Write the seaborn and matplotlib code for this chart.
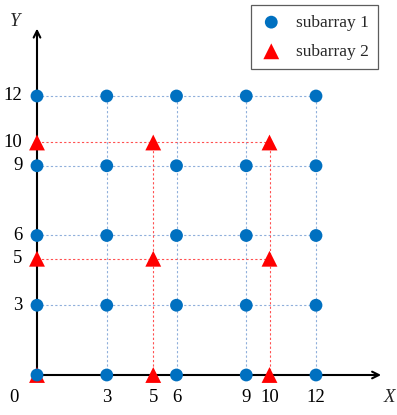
import numpy as np
import pandas as pd
import matplotlib
matplotlib.use("Agg")
import matplotlib.pyplot as plt
import seaborn as sns

# data
sub1_coords = [0, 3, 6, 9, 12]
sub2_coords = [0, 5, 10]
x_ticks = [3, 5, 6, 9, 10, 12]
y_ticks = [3, 5, 6, 9, 10, 12]
labels = ["subarray 1", "subarray 2"]

sns.set_theme(style="white")
plt.rcParams["font.family"] = ["Liberation Serif", "DejaVu Serif"]

W, H = 397, 415
fig = plt.figure(figsize=(W / 100, H / 100), dpi=100)
ax = fig.add_axes([0, 0, 1, 1])
px = 23.25
ox, oy = 37, 375
ax.set_xlim(-ox / px, (W - ox) / px)
ax.set_ylim(-(H - oy) / px, oy / px)
ax.axis("off")

blue = "#0070C0"
red = "#FF0000"
lblue = "#8FAFDB"
lred = "#FF5050"

# grid lines
for v in sub1_coords[1:]:
    ax.plot([0, max(sub1_coords)], [v, v], ls=(0, (2, 2)), lw=0.8, color=lblue, zorder=1)
    ax.plot([v, v], [0, max(sub1_coords)], ls=(0, (2, 2)), lw=0.8, color=lblue, zorder=1)
for v in sub2_coords[1:]:
    ax.plot([0, max(sub2_coords)], [v, v], ls=(0, (2, 2)), lw=0.8, color=lred, zorder=1.5)
    ax.plot([v, v], [0, max(sub2_coords)], ls=(0, (2, 2)), lw=0.8, color=lred, zorder=1.5)

# axes arrows
ax.annotate("", xy=(14.8, 0), xytext=(0, 0),
            arrowprops=dict(arrowstyle="->", lw=1.5, color="black", shrinkA=0, shrinkB=0), zorder=2)
ax.annotate("", xy=(0, 14.9), xytext=(0, 0),
            arrowprops=dict(arrowstyle="->", lw=1.5, color="black", shrinkA=0, shrinkB=0), zorder=2)

g1x, g1y = np.meshgrid(sub1_coords, sub1_coords)
g2x, g2y = np.meshgrid(sub2_coords, sub2_coords)
df1 = pd.DataFrame({"x": g1x.ravel(), "y": g1y.ravel()})
df2 = pd.DataFrame({"x": g2x.ravel(), "y": g2y.ravel()})

sns.scatterplot(data=df2, x="x", y="y", ax=ax, marker="^", s=130, color=red,
                edgecolor="none", linewidth=0, zorder=3, label=labels[1], clip_on=False)
sns.scatterplot(data=df1, x="x", y="y", ax=ax, marker="o", s=85, color=blue,
                edgecolor="none", linewidth=0, zorder=4, label=labels[0], clip_on=False)

# tick labels
fs = 13.5
for v in x_ticks:
    ax.text(v, -0.95, str(v), ha="center", va="center", fontsize=fs, color="black")
for v in y_ticks:
    ax.text(-0.62, v, str(v), ha="right", va="center", fontsize=fs, color="black")
ax.text(-1.0, -0.95, "0", ha="center", va="center", fontsize=fs, color="black")
ax.text(15.15, -0.95, "X", ha="center", va="center", fontsize=fs, style="italic")
ax.text(-0.95, 15.2, "Y", ha="center", va="center", fontsize=fs, style="italic")

h, l = ax.get_legend_handles_labels()
order = [l.index(labels[0]), l.index(labels[1])]
leg = ax.legend([h[i] for i in order], [l[i] for i in order], loc="upper right",
                bbox_to_anchor=(378 / W, 1 - 5 / H), fontsize=12.5, frameon=True,
                fancybox=False, edgecolor="#333333", borderpad=0.55, labelspacing=0.75,
                handlelength=1.2, handletextpad=0.8, borderaxespad=0)
leg.get_frame().set_linewidth(0.9)

fig.savefig("out.png", dpi=100)
